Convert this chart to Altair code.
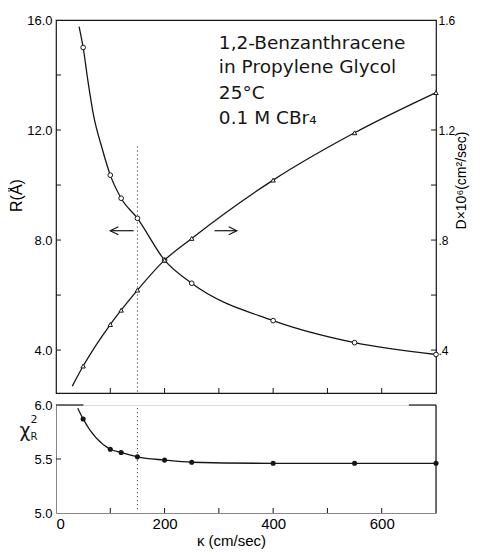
import altair as alt
import pandas as pd

# ---------------- data ----------------
kappa = [50, 100, 120, 150, 200, 250, 400, 550, 700]                     # cm/sec
R_vals = [15.0, 10.36, 9.52, 8.79, 7.27, 6.43, 5.07, 4.27, 3.84]         # R (Å)
D_vals = [0.342, 0.493, 0.545, 0.618, 0.727, 0.806, 1.018, 1.19, 1.336]  # D x 1e6 (cm^2/sec)
chi_vals = [5.87, 5.59, 5.56, 5.52, 5.49, 5.47, 5.46, 5.46, 5.46]        # reduced chi^2

# fitted curves (the drawn line, not the symbols)
R_fit_k = [42.5, 50, 59, 69, 85, 100, 120, 150, 200, 250, 400, 550, 700]
R_fit_v = [15.76, 15.0, 13.76, 12.55, 11.33, 10.36, 9.52, 8.79, 7.27, 6.43, 5.07, 4.27, 3.84]
D_fit_k = [30, 50, 100, 120, 150, 200, 250, 400, 550, 700]
D_fit_v = [0.269, 0.342, 0.493, 0.545, 0.618, 0.727, 0.806, 1.018, 1.19, 1.336]
chi_fit_k = [40, 50, 100, 120, 150, 200, 250, 400, 550, 700]
chi_fit_v = [5.97, 5.87, 5.59, 5.56, 5.52, 5.49, 5.47, 5.46, 5.46, 5.46]

# axis values / tick marks
R_labels = [4, 8, 12, 16]
R_ticks = [4, 6, 8, 10, 12, 14]
D_labels = [0.4, 0.8, 1.2, 1.6]
D_ticks = [0.4, 0.6, 0.8, 1.0, 1.2, 1.4]
x_labels = [0, 200, 400, 600]
x_ticks = [100, 200, 300, 400, 500, 600]
chi_labels = [5.0, 5.5, 6.0]
chi_ticks = [5.5]

# annotations
note_lines = ["1,2-Benzanthracene", "in Propylene Glycol", "25°C", "0.1 M CBr₄"]
note_k = [300, 300, 300, 300]
note_v = [15.16, 14.29, 13.35, 12.44]
marker_k = [150]            # dotted reference line
marker_R_top = [11.4]
arrow_left = {"k": [143], "k2": [100], "v": [8.34]}
arrow_right = {"k": [292], "k2": [333], "v": [8.34]}
chi_border_k = [0, 650]
chi_border_k2 = [50.5, 700]

# ---------------- chart ----------------
INK = "#161616"
FONT = "DejaVu Sans"
W, H_TOP, H_BOT = 380, 373, 108

xscale = alt.Scale(domain=[0, 700], nice=False, zero=False)
R_scale = alt.Scale(domain=[2.44, 16], nice=False, zero=False)
D_scale = alt.Scale(domain=[0.244, 1.6], nice=False, zero=False)
chi_scale = alt.Scale(domain=[5.0, 6.0], nice=False, zero=False)

X_top = alt.X("k:Q", scale=xscale, axis=None)
Y_R = alt.Y(
    "v:Q", scale=R_scale,
    axis=alt.Axis(values=R_labels, format=".1f", tickSize=0, domain=False, grid=False,
                  labelFontSize=13, labelPadding=4, title="R(Å)", titleFontSize=16,
                  titleFontWeight="normal", titlePadding=2, titleY=175),
)
Y_D = alt.Y(
    "v:Q", scale=D_scale,
    axis=alt.Axis(orient="right", values=D_labels,
                  labelExpr="replace(format(datum.value, '.1f'), '0.', '.')",
                  tickSize=0, domain=False, grid=False, labelFontSize=12, labelPadding=2,
                  title="D×10⁶(cm²/sec)", titleFontSize=14, titleFontWeight="normal",
                  titleAngle=270, titleBaseline="top", titlePadding=0, titleY=160),
)

df_R = pd.DataFrame({"k": kappa, "v": R_vals})
df_Rfit = pd.DataFrame({"k": R_fit_k, "v": R_fit_v})
df_D = pd.DataFrame({"k": kappa, "v": D_vals})
df_Dfit = pd.DataFrame({"k": D_fit_k, "v": D_fit_v})

r_line = alt.Chart(df_Rfit).mark_line(interpolate="monotone", color=INK, strokeWidth=1.3).encode(x=X_top, y=Y_R)
r_pts = alt.Chart(df_R).mark_point(shape="circle", filled=True, fill="white", stroke=INK,
                                   strokeWidth=1, size=22, opacity=1).encode(x=X_top, y=Y_R)
r_tk = alt.Chart(pd.DataFrame({"v": R_ticks})).mark_rule(color=INK).encode(
    y=Y_R, x=alt.value(0), x2=alt.value(5))
x_tk_top = alt.Chart(pd.DataFrame({"k": x_ticks})).mark_rule(color=INK).encode(
    x=X_top, y=alt.value(H_TOP), y2=alt.value(H_TOP - 5))
dotted_top = alt.Chart(pd.DataFrame({"k": marker_k, "v": marker_R_top, "v2": [2.44]})).mark_rule(
    color=INK, strokeDash=[1, 3], strokeWidth=1).encode(x=X_top, y=Y_R, y2="v2:Q")
al = alt.Chart(pd.DataFrame(arrow_left)).mark_rule(color=INK, strokeWidth=1.2).encode(x=X_top, x2="k2:Q", y=Y_R)
ar = alt.Chart(pd.DataFrame(arrow_right)).mark_rule(color=INK, strokeWidth=1.2).encode(x=X_top, x2="k2:Q", y=Y_R)
al_head = alt.Chart(pd.DataFrame({"k": arrow_left["k2"], "v": arrow_left["v"]})).mark_point(
    shape="M2,-1L0,0L2,1", filled=False, stroke=INK, strokeWidth=1.2, size=64, opacity=1).encode(x=X_top, y=Y_R)
ar_head = alt.Chart(pd.DataFrame({"k": arrow_right["k2"], "v": arrow_right["v"]})).mark_point(
    shape="M-2,-1L0,0L-2,1", filled=False, stroke=INK, strokeWidth=1.2, size=64, opacity=1).encode(x=X_top, y=Y_R)
notes = alt.Chart(pd.DataFrame({"k": note_k, "v": note_v, "t": note_lines})).mark_text(
    align="left", baseline="middle", fontSize=18.5, font=FONT, color=INK).encode(x=X_top, y=Y_R, text="t:N")

d_line = alt.Chart(df_Dfit).mark_line(interpolate="monotone", color=INK, strokeWidth=1.3).encode(x=X_top, y=Y_D)
d_pts = alt.Chart(df_D).mark_point(shape="triangle-up", filled=True, fill="white", stroke=INK,
                                   strokeWidth=1, size=20, opacity=1).encode(x=X_top, y=Y_D)
d_tk = alt.Chart(pd.DataFrame({"v": D_ticks})).mark_rule(color=INK).encode(
    y=Y_D, x=alt.value(W - 5), x2=alt.value(W))

top = alt.layer(
    alt.layer(r_line, r_tk, x_tk_top, dotted_top, al, ar, al_head, ar_head, notes, r_pts),
    alt.layer(d_line, d_tk, d_pts),
).resolve_scale(y="independent").properties(
    width=W, height=H_TOP, view=alt.ViewBackground(stroke=INK, strokeWidth=1.2))

# bottom panel
X_bot = alt.X("k:Q", scale=xscale,
              axis=alt.Axis(values=x_labels, format="d", tickSize=0, domain=True, grid=False,
                            labelFontSize=15, labelPadding=3, title="κ (cm/sec)", titleFontSize=15,
                            titleFontWeight="normal", titlePadding=2, titleX=175))
Y_chi = alt.Y("v:Q", scale=chi_scale,
              axis=alt.Axis(values=chi_labels, format=".1f", tickSize=0, domain=True, grid=False,
                            labelFontSize=13, labelPadding=4, title=None))

c_line = alt.Chart(pd.DataFrame({"k": chi_fit_k, "v": chi_fit_v})).mark_line(
    interpolate="monotone", color=INK, strokeWidth=1.3).encode(x=X_bot, y=Y_chi)
c_pts = alt.Chart(pd.DataFrame({"k": kappa, "v": chi_vals})).mark_point(
    shape="circle", filled=True, color=INK, size=26, opacity=1).encode(x=X_bot, y=Y_chi)
x_tk_bot = alt.Chart(pd.DataFrame({"k": x_ticks})).mark_rule(color=INK).encode(
    x=X_bot, y=alt.value(H_BOT), y2=alt.value(H_BOT - 5))
c_tk = alt.Chart(pd.DataFrame({"v": chi_ticks})).mark_rule(color=INK).encode(
    y=Y_chi, x=alt.value(0), x2=alt.value(5))
dotted_bot = alt.Chart(pd.DataFrame({"k": marker_k, "v": [5.97], "v2": [5.03]})).mark_rule(
    color=INK, strokeDash=[1, 3], strokeWidth=1).encode(x=X_bot, y=Y_chi, y2="v2:Q")
c_border = alt.Chart(pd.DataFrame({"k": chi_border_k, "k2": chi_border_k2, "v": [6.0, 6.0]})).mark_rule(
    color=INK, strokeWidth=1.2).encode(x=X_bot, x2="k2:Q", y=Y_chi)
c_right = alt.Chart(pd.DataFrame({"k": [700]})).mark_rule(color=INK, strokeWidth=1.2).encode(
    x=alt.value(W), y=alt.value(0), y2=alt.value(H_BOT))
chi_sym = alt.Chart(pd.DataFrame({"t": ["χ"]})).mark_text(
    fontSize=19, font=FONT, color=INK).encode(text="t:N", x=alt.value(-31), y=alt.value(26))
chi_sup = alt.Chart(pd.DataFrame({"t": ["2"]})).mark_text(
    fontSize=11, font=FONT, color=INK).encode(text="t:N", x=alt.value(-22), y=alt.value(15))
chi_sub = alt.Chart(pd.DataFrame({"t": ["R"]})).mark_text(
    fontSize=10, font=FONT, color=INK).encode(text="t:N", x=alt.value(-22), y=alt.value(32))

bottom = alt.layer(c_line, x_tk_bot, c_tk, dotted_bot, c_border, c_right, chi_sym, chi_sup, chi_sub, c_pts
                   ).properties(width=W, height=H_BOT)

chart = alt.vconcat(top, bottom, spacing=3).properties(
    padding={"left": 0, "top": 5, "right": 0, "bottom": 0}
).configure_view(stroke="transparent").configure_axis(
    labelFont=FONT, titleFont=FONT, labelColor=INK, titleColor=INK, domainColor=INK,
    domainWidth=1.2, grid=False
).configure(background="white")

chart.save("out.html", embed_options={"renderer": "svg", "actions": False})
